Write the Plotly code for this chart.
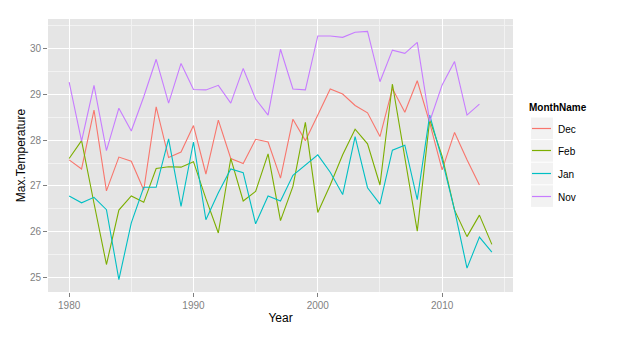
import plotly.graph_objects as go

years = list(range(1980, 2015))

dec = [27.57, 27.37, 28.66, 26.89, 27.63, 27.54, 26.91, 28.73, 27.62, 27.74,
       28.32, 27.26, 28.44, 27.60, 27.49, 28.02, 27.96, 27.17, 28.46, 27.99,
       28.55, 29.12, 29.01, 28.76, 28.60, 28.08, 29.13, 28.61, 29.30, 28.38,
       27.35, 28.17, 27.57, 27.02]
feb = [27.60, 27.99, 26.62, 25.28, 26.47, 26.78, 26.64, 27.38, 27.42, 27.41,
       27.53, 26.72, 25.97, 27.60, 26.67, 26.88, 27.70, 26.24, 26.99, 28.39,
       26.42, 27.02, 27.68, 28.24, 27.92, 27.02, 29.23, 27.62, 26.01, 28.45,
       27.65, 26.47, 25.89, 26.36, 25.72]
jan = [26.78, 26.63, 26.75, 26.48, 24.95, 26.19, 26.97, 26.97, 28.03, 26.55,
       27.96, 26.26, 26.85, 27.37, 27.29, 26.17, 26.78, 26.67, 27.23, 27.45,
       27.68, 27.30, 26.81, 28.08, 26.96, 26.60, 27.78, 27.89, 26.70, 28.55,
       27.57, 26.47, 25.20, 25.88, 25.55]
nov = [29.27, 27.98, 29.20, 27.77, 28.70, 28.20, 28.95, 29.77, 28.81, 29.68,
       29.11, 29.10, 29.20, 28.81, 29.57, 28.90, 28.55, 29.99, 29.12, 29.10,
       30.28, 30.28, 30.25, 30.36, 30.38, 29.28, 29.97, 29.90, 30.14, 28.41,
       29.21, 29.72, 28.55, 28.79]

months = ["Dec", "Feb", "Jan", "Nov"]
series = [dec, feb, jan, nov]
colors = ["#F8766D", "#7CAE00", "#00BFC4", "#C77CFF"]

x_ticks = [1980, 1990, 2000, 2010]
y_ticks = [25, 26, 27, 28, 29, 30]

W, H = 624, 337
L, R, T, B = 48, 111, 19, 45

fig = go.Figure()
for name, vals, col in zip(months, series, colors):
    fig.add_trace(go.Scatter(
        x=years[:len(vals)], y=vals, mode="lines", name=name,
        line=dict(color=col, width=1.1), showlegend=False,
    ))

# ggplot-style expanded ranges (5% on each side)
all_y = [v for s in series for v in s]
ymin, ymax = min(all_y), max(all_y)
ypad = (ymax - ymin) * 0.05
xpad = (max(years) - min(years)) * 0.05

tick_font = dict(family="Liberation Sans, Arial", size=10, color="#7F7F7F")
title_font = dict(family="Liberation Sans, Arial", size=12, color="#000000")

fig.update_layout(
    width=W, height=H,
    margin=dict(l=L, r=R, t=T, b=B),
    paper_bgcolor="white", plot_bgcolor="#E5E5E5",
    showlegend=False,
    xaxis=dict(
        range=[min(years) - xpad, max(years) + xpad],
        tickvals=x_ticks, ticktext=[str(v) for v in x_ticks],
        showgrid=True, gridcolor="white", gridwidth=1.2,
        minor=dict(dtick=5, tick0=1975, showgrid=True, gridcolor="#F2F2F2", gridwidth=1, ticklen=0),
        ticks="outside", ticklen=4, tickcolor="#7F7F7F", tickwidth=1,
        tickfont=tick_font, zeroline=False, showline=False,
        title=dict(text="Year", font=title_font, standoff=3),
    ),
    yaxis=dict(
        range=[ymin - ypad, ymax + ypad],
        tickvals=y_ticks, ticktext=[str(v) for v in y_ticks],
        showgrid=True, gridcolor="white", gridwidth=1.2,
        minor=dict(dtick=0.5, tick0=24.5, showgrid=True, gridcolor="#F2F2F2", gridwidth=1, ticklen=0),
        ticks="outside", ticklen=4, tickcolor="#7F7F7F", tickwidth=1,
        tickfont=tick_font, zeroline=False, showline=False,
        title=dict(text="Max.Temperature", font=title_font, standoff=1),
    ),
)

# Legend drawn in paper coordinates, from pixel positions
pw, ph = W - L - R, H - T - B


def px_x(p):
    return (p - L) / pw


def px_y(p):
    return (H - B - p) / ph


fig.add_annotation(
    x=px_x(527), y=px_y(107.5), xref="paper", yref="paper",
    text="<b>MonthName</b>", showarrow=False, xanchor="left", yanchor="middle",
    font=dict(family="Liberation Sans, Arial", size=10, color="#000000"),
)
key_top, key_h = 117.5, 22.6
for i, (name, col) in enumerate(zip(months, colors)):
    y0 = key_top + i * key_h
    y1 = y0 + key_h - 1
    fig.add_shape(type="rect", xref="paper", yref="paper",
                  x0=px_x(531), x1=px_x(553), y0=px_y(y1), y1=px_y(y0),
                  fillcolor="#F2F2F2", line=dict(width=0), layer="below")
    yc = (y0 + y1) / 2
    yline = int(yc) + 0.5
    fig.add_shape(type="line", xref="paper", yref="paper",
                  x0=px_x(532), x1=px_x(551), y0=px_y(yline), y1=px_y(yline),
                  line=dict(color=col, width=1.2))
    fig.add_annotation(
        x=px_x(556), y=px_y(yc + 1), xref="paper", yref="paper",
        text=name, showarrow=False, xanchor="left", yanchor="middle",
        font=dict(family="Liberation Sans, Arial", size=10, color="#000000"),
    )

fig.write_html("out.html")
